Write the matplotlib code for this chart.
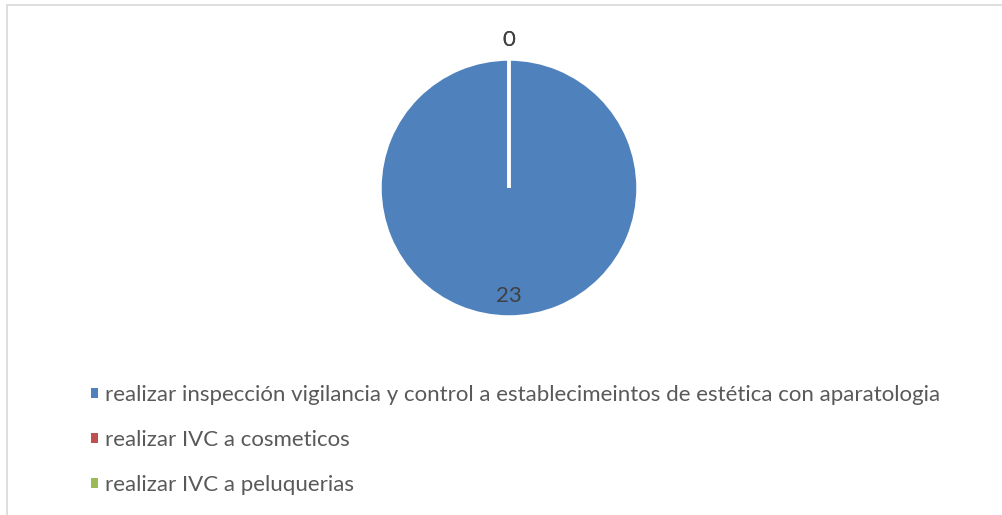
import matplotlib.pyplot as plt
import numpy as np
from matplotlib.patches import Rectangle, Patch

# data
categories = [
    'realizar inspección vigilancia y control a establecimeintos de estética con aparatologia',
    'realizar IVC a cosmeticos',
    'realizar IVC a peluquerias',
]
values = [23, 0, 0]
colors = ['#4F81BD', '#C0504D', '#9BBB59']

W, H = 1002, 515
plt.rcParams['font.family'] = ['Lato', 'DejaVu Sans']

fig = plt.figure(figsize=(W / 100, H / 100), dpi=100)

# chart border (cut off at right and bottom like the source)
fig.add_artist(Rectangle((7 / W, -0.05), 1.2, 1 - 5 / H + 0.05,
                         transform=fig.transFigure, fill=False,
                         edgecolor='#D9D9D9', linewidth=1.2))

# pie axes: center (509, 188), radius ~128 px
cx, cy, r = 509, 188, 129
ax = fig.add_axes([(cx - r) / W, (H - cy - r) / H, 2 * r / W, 2 * r / H])
wedges, _ = ax.pie(values, colors=colors, startangle=90, counterclock=False,
                   wedgeprops=dict(edgecolor='white', linewidth=2.5))
ax.set_xlim(-1, 1)
ax.set_ylim(-1, 1)
ax.axis('off')

# data labels
for w, v in zip(wedges, values):
    mid = np.deg2rad((w.theta1 + w.theta2) / 2)
    rr = 0.84 if v > 0 else 1.15
    ax.text(rr * np.cos(mid), rr * np.sin(mid), str(v), ha='center', va='center',
            fontsize=16, color='#404040', clip_on=False)

# legend
handles = [Patch(facecolor=c, edgecolor='none') for c in colors]
fig.legend(handles, categories, loc='upper left',
           bbox_to_anchor=(80 / W, 1 - 374 / H), frameon=False,
           fontsize=16, labelcolor='#595959', handlelength=0.33, handleheight=0.33,
           handletextpad=0.3, labelspacing=1.13, borderpad=0)

fig.savefig('out.png', dpi=100)
